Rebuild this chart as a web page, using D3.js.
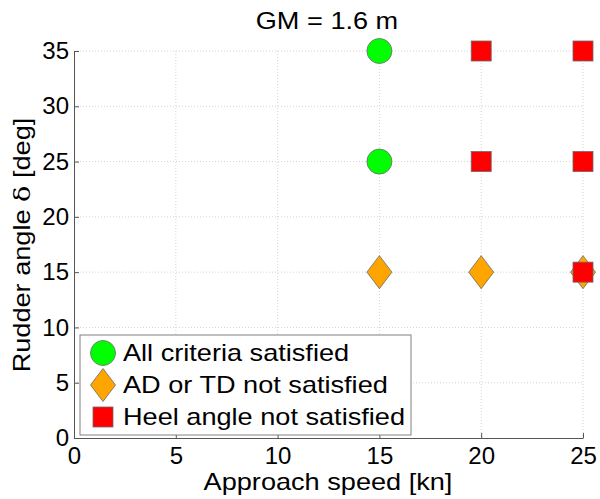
<!DOCTYPE html>
<html>
<head>
<meta charset="utf-8">
<script src="https://cdnjs.cloudflare.com/ajax/libs/d3/7.8.5/d3.min.js"></script>
<style>
body { margin: 0; background: #fff; }
text { font-family: "Liberation Sans", Arial, sans-serif; fill: #000; }
</style>
</head>
<body>
<div id="chart"></div>
<script>
var xTicks = [0, 5, 10, 15, 20, 25];
var yTicks = [0, 5, 10, 15, 20, 25, 30, 35];

// points per category: [speed, rudder angle]
var okPts = [[15, 35], [15, 25]];
var adtdPts = [[15, 15], [20, 15], [25, 15]];
var heelPts = [[20, 35], [25, 35], [20, 25], [25, 25], [25, 15]];

var legendLabels = ["All criteria satisfied", "AD or TD not satisfied", "Heel angle not satisfied"];

var W = 600, H = 499;
var margin = {top: 51, right: 17, bottom: 61, left: 74};
var w = W - margin.left - margin.right, h = H - margin.top - margin.bottom;
var stretch = 1.18;

var svg = d3.select("#chart").append("svg").attr("width", W).attr("height", H);
var g = svg.append("g").attr("transform", "translate(" + margin.left + "," + margin.top + ")");

var x = d3.scaleLinear().domain([0, 25]).range([0, w]);
var y = d3.scaleLinear().domain([0, 35]).range([h, 0]);

// grid
g.append("g").selectAll("line").data(xTicks.slice(1)).enter().append("line")
  .attr("x1", d => x(d)).attr("x2", d => x(d)).attr("y1", 0).attr("y2", h)
  .attr("stroke", "#d4d4d4").attr("stroke-dasharray", "1,2");
g.append("g").selectAll("line").data(yTicks.slice(1)).enter().append("line")
  .attr("y1", d => y(d)).attr("y2", d => y(d)).attr("x1", 0).attr("x2", w)
  .attr("stroke", "#d4d4d4").attr("stroke-dasharray", "1,2");

// axes
var xAxis = g.append("g").attr("transform", "translate(0," + h + ")")
  .call(d3.axisBottom(x).tickValues(xTicks).tickSizeInner(-5).tickSizeOuter(0).tickPadding(9));
var yAxis = g.append("g")
  .call(d3.axisLeft(y).tickValues(yTicks).tickSizeInner(-5).tickSizeOuter(0).tickPadding(5));
[xAxis, yAxis].forEach(function(a) {
  a.selectAll("path, line").attr("stroke", "#555");
  a.selectAll("text").style("font-size", "24px").attr("fill", "#000");
});

function circle(sel) {
  sel.append("circle").attr("r", 12.5).attr("fill", "#00ff00").attr("stroke", "#6a6a6a").attr("stroke-width", 0.8);
}
function diamond(sel) {
  sel.append("path").attr("d", "M0,-16.5L12.5,0L0,16.5L-12.5,0Z").attr("fill", "#ffa500").attr("stroke", "#6a6a6a").attr("stroke-width", 0.8);
}
function square(sel) {
  sel.append("rect").attr("x", -10).attr("y", -10).attr("width", 20).attr("height", 20)
    .attr("fill", "#ff0000").attr("stroke", "#6a6a6a").attr("stroke-width", 0.8);
}

function plot(pts, fn) {
  g.append("g").selectAll("g").data(pts).enter().append("g")
    .attr("transform", d => "translate(" + x(d[0]) + "," + y(d[1]) + ")")
    .each(function() { fn(d3.select(this)); });
}
plot(okPts, circle);
plot(adtdPts, diamond);
plot(heelPts, square);

// legend
var lg = svg.append("g").attr("transform", "translate(80,335)");
lg.append("rect").attr("width", 331).attr("height", 100).attr("fill", "#fff").attr("stroke", "#808080");
var makers = [circle, diamond, square];
legendLabels.forEach(function(t, i) {
  var row = lg.append("g").attr("transform", "translate(23," + (18 + i * 32) + ")");
  makers[i](row);
  row.append("text").attr("transform", "translate(20,0) scale(" + stretch + ",1)")
    .attr("dy", "0.36em").style("font-size", "23px").text(t);
});

// title and labels
svg.append("text").attr("transform", "translate(327,29) scale(" + stretch + ",1)")
  .attr("text-anchor", "middle").style("font-size", "23px").text("GM = 1.6 m");
svg.append("text").attr("transform", "translate(328,490) scale(" + stretch + ",1)")
  .attr("text-anchor", "middle").style("font-size", "23px").text("Approach speed [kn]");
var yl = svg.append("text").attr("transform", "translate(30,245) rotate(-90) scale(" + stretch + ",1)")
  .attr("text-anchor", "middle").style("font-size", "23px");
yl.append("tspan").text("Rudder angle  ");
yl.append("tspan").style("font-family", "'DejaVu Serif', serif").text("δ");
yl.append("tspan").text(" [deg]");
</script>
</body>
</html>
